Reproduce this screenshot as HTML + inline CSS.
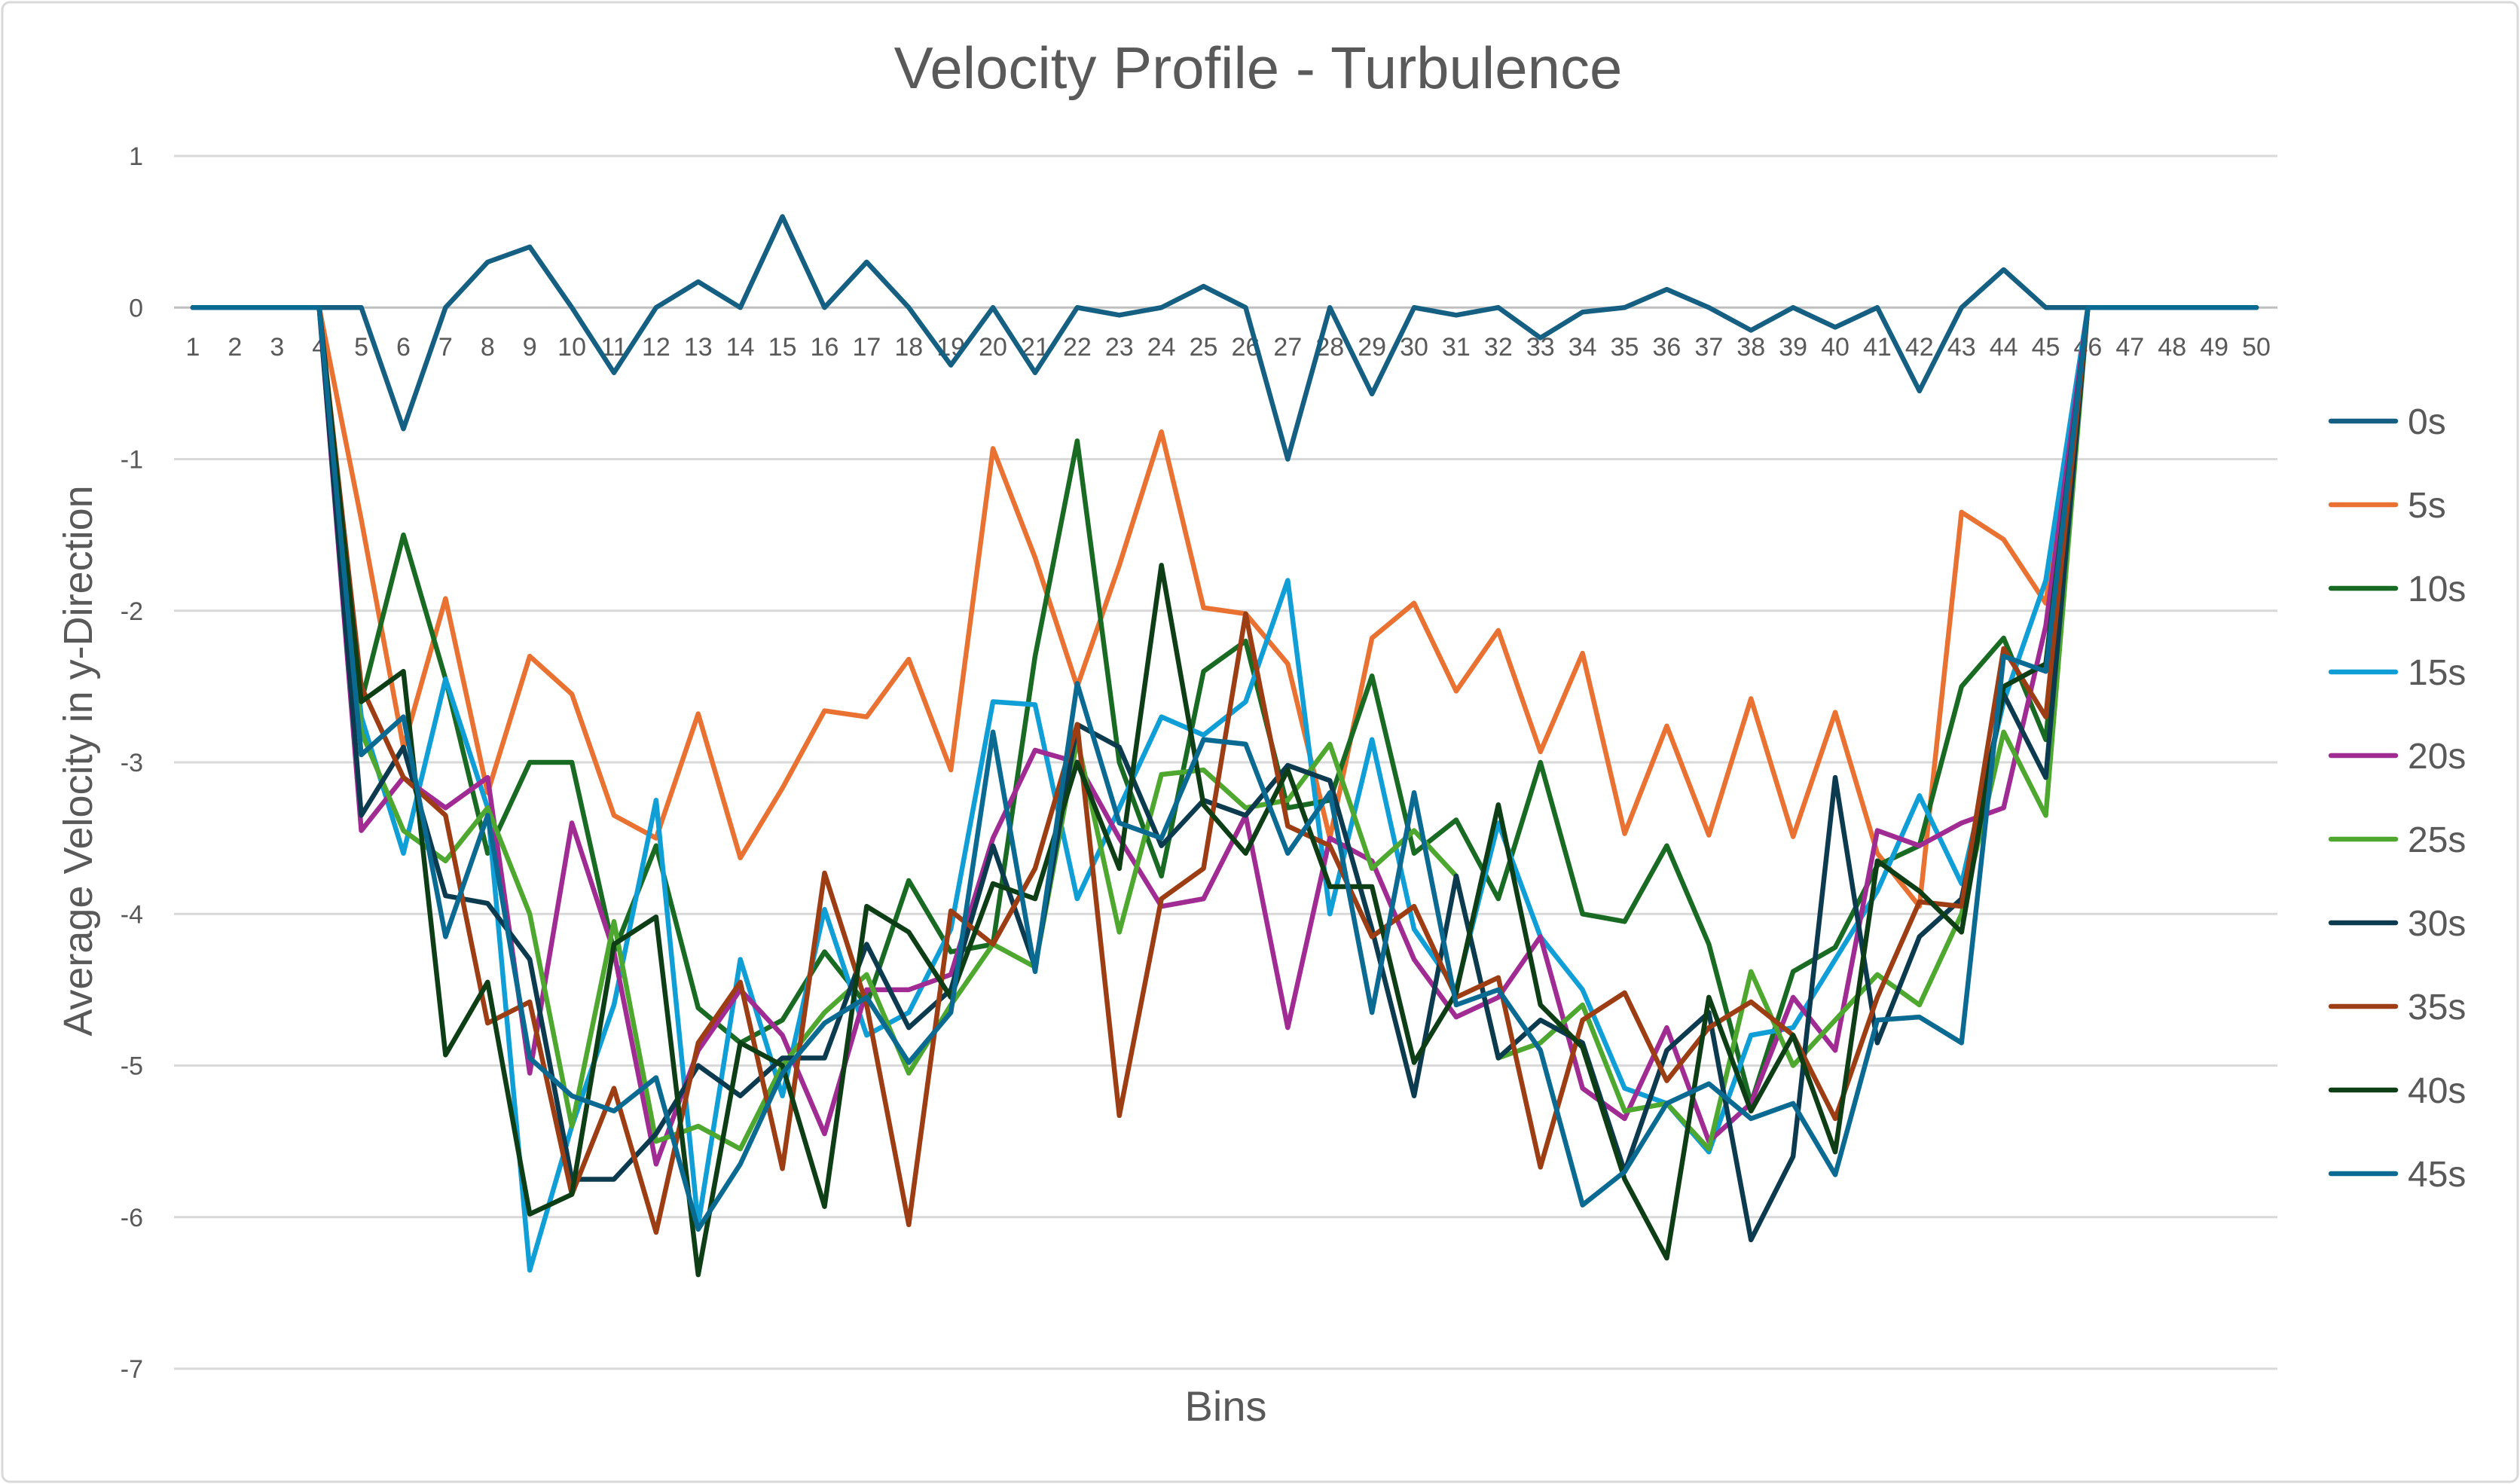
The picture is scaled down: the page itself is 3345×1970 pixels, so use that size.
<!DOCTYPE html>
<html><head><meta charset="utf-8">
<style>
html,body{margin:0;padding:0;background:#fff;}
svg{display:block;font-family:"Liberation Sans",sans-serif;}
</style></head>
<body>
<svg id="chart" width="3345" height="1970" viewBox="0 0 3345 1970" xmlns="http://www.w3.org/2000/svg">
<rect x="3" y="3" width="3339" height="1964" rx="10" fill="#fff" stroke="#d9d9d9" stroke-width="3"/>
<text x="1670" y="117" font-size="78" fill="#595959" text-anchor="middle">Velocity Profile - Turbulence</text>
<text transform="translate(122,1010) rotate(-90)" font-size="54" fill="#595959" text-anchor="middle">Average Velocity in y-Direction</text>
<text x="1627" y="1886" font-size="56" fill="#595959" text-anchor="middle">Bins</text>
<g id="grid"></g><g id="yticks"></g><g id="xticks"></g><g id="series"></g><g id="legend"></g>
</svg>
<script>
const bins = Array.from({length:50},(_,i)=>i+1);
const yTicks = [1,0,-1,-2,-3,-4,-5,-6,-7];
const seriesNames = ["0s","5s","10s","15s","20s","25s","30s","35s","40s","45s"];
const seriesColors = ["#156082","#E97132","#196B24","#0F9ED5","#A02B93","#4EA72E","#0C3A4F","#9C3D14","#0E3E16","#0B6A92"];
const z4=[0,0,0,0], z5=[0,0,0,0,0];
const s0 = z4.concat([0,-0.8,0,0.3,0.4,0,-0.43,0,0.17,0,0.6,0,0.3,0,-0.38,0,-0.43,0,-0.05,0,0.14,0,-1.0,0,-0.57,0,-0.05,0,-0.2,-0.03,0,0.12,0,-0.15,0,-0.13,0,-0.55,0,0.25,0]).concat(z5);
const s5 = z4.concat([-1.4,-2.9,-1.92,-3.2,-2.3,-2.55,-3.35,-3.5,-2.68,-3.63,-3.17,-2.66,-2.7,-2.32,-3.05,-0.93,-1.65,-2.5,-1.7,-0.82,-1.98,-2.02,-2.35,-3.5,-2.18,-1.95,-2.53,-2.13,-2.93,-2.28,-3.47,-2.76,-3.48,-2.58,-3.49,-2.67,-3.6,-3.95,-1.35,-1.53,-1.95]).concat(z5);
const s10 = z4.concat([-2.6,-1.5,-2.45,-3.6,-3.0,-3.0,-4.25,-3.55,-4.62,-4.85,-4.7,-4.25,-4.6,-3.78,-4.25,-4.2,-2.3,-0.88,-3.0,-3.75,-2.4,-2.2,-3.3,-3.25,-2.43,-3.6,-3.38,-3.9,-3.0,-4.0,-4.05,-3.55,-4.2,-5.25,-4.38,-4.22,-3.68,-3.55,-2.5,-2.18,-2.85]).concat(z5);
const s15 = z4.concat([-2.7,-3.6,-2.45,-3.3,-6.35,-5.4,-4.6,-3.25,-6.05,-4.3,-5.2,-3.97,-4.8,-4.65,-4.1,-2.6,-2.62,-3.9,-3.3,-2.7,-2.82,-2.6,-1.8,-4.0,-2.85,-4.1,-4.5,-3.4,-4.15,-4.5,-5.15,-5.25,-5.57,-4.8,-4.75,-4.3,-3.85,-3.22,-3.8,-2.6,-1.8]).concat(z5);
const s20 = z4.concat([-3.45,-3.1,-3.3,-3.1,-5.05,-3.4,-4.25,-5.65,-4.9,-4.5,-4.8,-5.45,-4.5,-4.5,-4.4,-3.5,-2.92,-3.0,-3.5,-3.95,-3.9,-3.35,-4.75,-3.5,-3.65,-4.3,-4.68,-4.55,-4.15,-5.15,-5.35,-4.75,-5.5,-5.25,-4.55,-4.9,-3.45,-3.55,-3.4,-3.3,-2.1]).concat(z5);
const s25 = z4.concat([-2.8,-3.45,-3.65,-3.3,-4.0,-5.4,-4.05,-5.5,-5.4,-5.55,-5.0,-4.65,-4.4,-5.05,-4.6,-4.2,-4.35,-2.85,-4.12,-3.08,-3.05,-3.3,-3.25,-2.88,-3.7,-3.45,-3.75,-4.95,-4.85,-4.6,-5.3,-5.25,-5.55,-4.38,-5.0,-4.7,-4.4,-4.6,-4.0,-2.8,-3.35]).concat(z5);
const s30 = z4.concat([-3.35,-2.9,-3.88,-3.93,-4.3,-5.75,-5.75,-5.45,-5.0,-5.2,-4.95,-4.95,-4.2,-4.75,-4.5,-3.55,-4.35,-2.75,-2.9,-3.55,-3.25,-3.35,-3.02,-3.12,-4.1,-5.2,-3.75,-4.95,-4.7,-4.85,-5.7,-4.9,-4.65,-6.15,-5.6,-3.1,-4.85,-4.15,-3.9,-2.55,-3.1]).concat(z5);
const s35 = z4.concat([-2.5,-3.1,-3.35,-4.72,-4.58,-5.85,-5.15,-6.1,-4.85,-4.45,-5.68,-3.73,-4.6,-6.05,-3.98,-4.2,-3.7,-2.75,-5.33,-3.9,-3.7,-2.02,-3.42,-3.55,-4.15,-3.95,-4.55,-4.42,-5.67,-4.7,-4.52,-5.1,-4.75,-4.58,-4.8,-5.35,-4.55,-3.92,-3.95,-2.25,-2.7]).concat(z5);
const s40 = z4.concat([-2.6,-2.4,-4.93,-4.45,-5.98,-5.85,-4.2,-4.02,-6.38,-4.85,-5.0,-5.93,-3.95,-4.12,-4.55,-3.8,-3.9,-3.0,-3.7,-1.7,-3.28,-3.6,-3.05,-3.82,-3.82,-4.98,-4.52,-3.28,-4.6,-4.88,-5.75,-6.27,-4.55,-5.3,-4.8,-5.57,-3.65,-3.85,-4.12,-2.5,-2.35]).concat(z5);
const s45 = z4.concat([-2.95,-2.7,-4.15,-3.35,-4.95,-5.2,-5.3,-5.08,-6.08,-5.65,-5.05,-4.72,-4.55,-4.98,-4.65,-2.8,-4.38,-2.48,-3.4,-3.5,-2.85,-2.88,-3.6,-3.2,-4.65,-3.2,-4.6,-4.5,-4.9,-5.92,-5.7,-5.25,-5.12,-5.35,-5.25,-5.72,-4.7,-4.68,-4.85,-2.3,-2.4]).concat(z5);
const allSeries=[s0,s5,s10,s15,s20,s25,s30,s35,s40,s45];

const NS="http://www.w3.org/2000/svg";
const plotL=231, plotR=3023, yTop=207, yBot=1817;
const xs = b => 256 + (b-1)*(2995-256)/49;
const ys = v => yTop + (1-v)*(yBot-yTop)/8;
function mk(tag,parent){const e=document.createElementNS(NS,tag);document.getElementById(parent).appendChild(e);return e;}

yTicks.forEach(t=>{
  const l=mk('line','grid');
  
  
  l.setAttribute('x1',plotL);l.setAttribute('x2',plotR);l.setAttribute('y1',ys(t));l.setAttribute('y2',ys(t));
  l.setAttribute('stroke',t===0?'#bfbfbf':'#d9d9d9');l.setAttribute('stroke-width',3);
  const tx=mk('text','yticks');
  
  
  tx.setAttribute('x',190);tx.setAttribute('y',ys(t)+12);tx.setAttribute('text-anchor','end');
  tx.setAttribute('font-size',34);tx.setAttribute('fill','#595959');tx.textContent=t;
});
bins.forEach(b=>{
  const tx=mk('text','xticks');
  
  
  tx.setAttribute('x',xs(b));tx.setAttribute('y',472);tx.setAttribute('text-anchor','middle');
  tx.setAttribute('font-size',34);tx.setAttribute('fill','#595959');tx.textContent=b;
});
allSeries.forEach((s,i)=>{
  const p=mk('polyline','series');
  
  
  p.setAttribute('points',s.map((v,j)=>xs(bins[j])+','+ys(v)).join(' '));
  p.setAttribute('fill','none');p.setAttribute('stroke',seriesColors[i]);
  p.setAttribute('stroke-width',6.5);p.setAttribute('stroke-linejoin','round');p.setAttribute('stroke-linecap','round');
  const ly=559+i*111;
  const ll=mk('line','legend');
  
  
  ll.setAttribute('x1',3094);ll.setAttribute('x2',3180);ll.setAttribute('y1',ly);ll.setAttribute('y2',ly);
  ll.setAttribute('stroke',seriesColors[i]);ll.setAttribute('stroke-width',6.5);ll.setAttribute('stroke-linecap','round');
  const lt=mk('text','legend');
  
  
  lt.setAttribute('x',3196);lt.setAttribute('y',ly+17);lt.setAttribute('font-size',48);lt.setAttribute('fill','#595959');
  lt.textContent=seriesNames[i];
});
</script>
</body></html>
